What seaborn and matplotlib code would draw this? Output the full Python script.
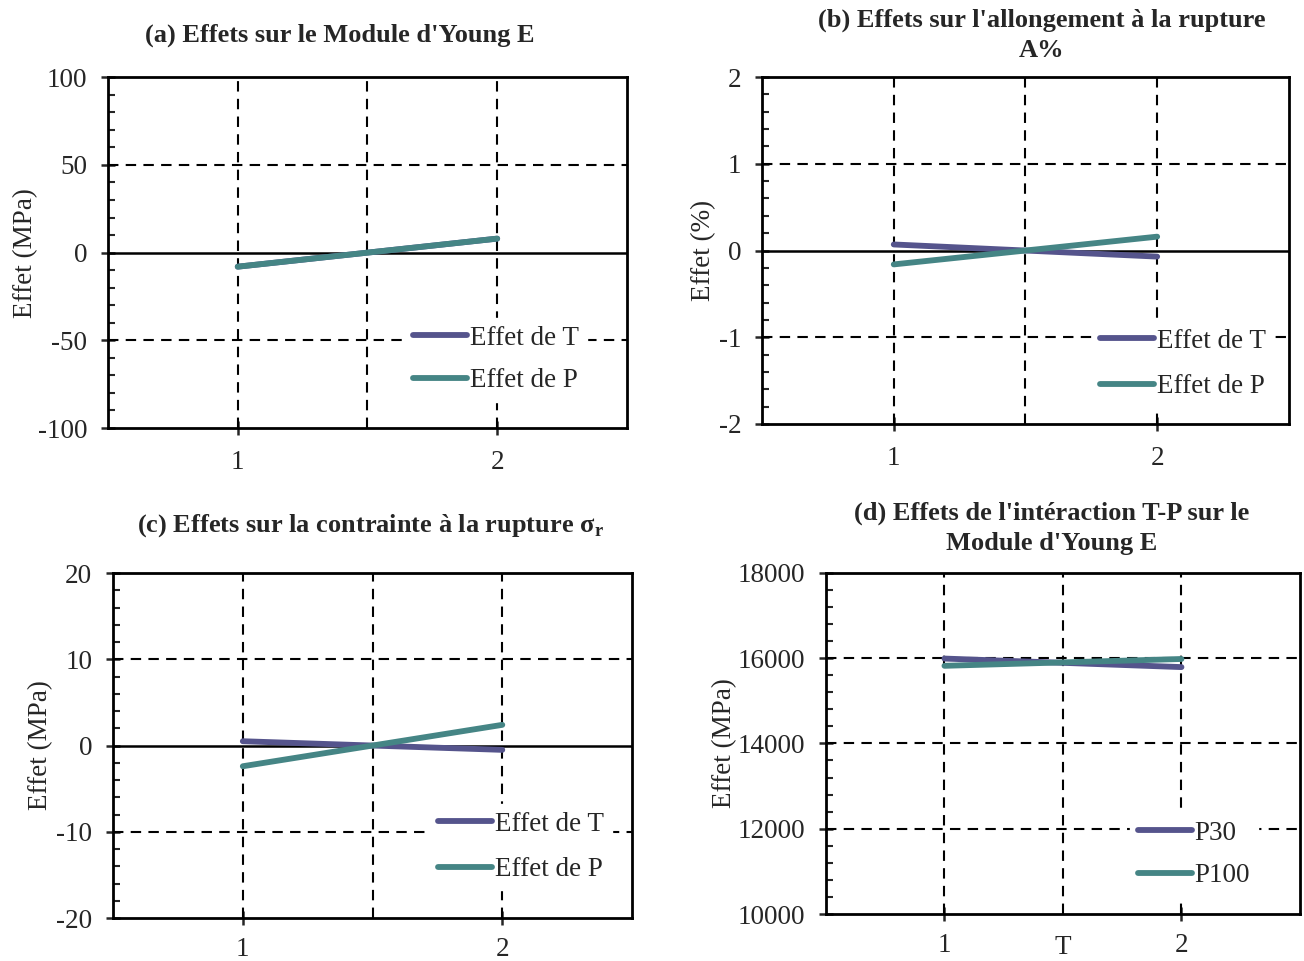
import pandas as pd
import numpy as np
import matplotlib.pyplot as plt
import seaborn as sns
from matplotlib.ticker import MultipleLocator

# -------------------------------
# Data
# -------------------------------
levels = [1, 2]

young_T = [-8, 8]
young_P = [-8, 8]

allong_T = [0.07, -0.07]
allong_P = [-0.16, 0.16]

contr_T = [0.5, -0.5]
contr_P = [-2.4, 2.4]

inter_P30 = [15990, 15790]
inter_P100 = [15820, 15980]

titles = [
    "(a) Effets sur le Module d'Young E",
    "(b) Effets sur l'allongement à la rupture\nA%",
    "(c) Effets sur la contrainte à la rupture σ$_\\mathbf{r}$",
    "(d) Effets de l'intéraction T-P sur le\nModule d'Young E",
]
ylabels = ["Effet (MPa)", "Effet (%)", "Effet (MPa)", "Effet (MPa)"]

colors = {"Effet de T": "#55548c", "Effet de P": "#458585",
          "P30": "#55548c", "P100": "#458585"}

# -------------------------------
# Style
# -------------------------------
sns.set_style("white")
plt.rcParams['font.family'] = ['Liberation Serif', 'DejaVu Serif']
plt.rcParams['mathtext.fontset'] = 'custom'
plt.rcParams['mathtext.rm'] = 'Liberation Serif'
plt.rcParams['mathtext.bf'] = 'Liberation Serif:bold'
plt.rcParams['axes.unicode_minus'] = False

W, H = 1304, 961
fig = plt.figure(figsize=(W / 100, H / 100), dpi=100)

panels = [
    # rect, series, ylim, major, minor, legend anchor, legend spacing, zero line, title centre (px), ylabel pad
    ([0.0828, 0.5546, 0.398, 0.365], {"Effet de T": young_T, "Effet de P": young_P},
     (-100, 100), 50, 10, (0.546, 0.353), 0.65, True, (340, 35), 0),
    ([0.5844, 0.5588, 0.404, 0.361], {"Effet de T": allong_T, "Effet de P": allong_P},
     (-2, 2), 1, 0.2, (0.60, 0.337), 0.75, True, (1042, 35), 2),
    ([0.0867, 0.0447, 0.398, 0.359], {"Effet de T": contr_T, "Effet de P": contr_P},
     (-20, 20), 10, 2, (0.584, 0.371), 0.75, True, (370, 526), 2),
    ([0.6334, 0.0489, 0.3635, 0.355], {"P30": inter_P30, "P100": inter_P100},
     (10000, 18000), 2000, 400, (0.612, 0.337), 0.65, False, (1052, 528), 0),
]

for i, (rect, series, ylim, major, minor, anchor, lspace, zero_line, tpos, ypad) in enumerate(panels):
    ax = fig.add_axes(rect)
    rows = []
    for name, vals in series.items():
        for x, v in zip(levels, vals):
            rows.append({"x": x, "y": v, "serie": name})
    df = pd.DataFrame(rows)

    sns.lineplot(data=df, x="x", y="y", hue="serie", palette=colors,
                 linewidth=4.2, ax=ax, zorder=5, solid_capstyle="round")

    ax.set_xlim(0.5, 2.5)
    ax.set_ylim(*ylim)
    ax.set_xticks(levels)
    ax.set_xticklabels(["1", "2"])
    ax.yaxis.set_major_locator(MultipleLocator(major))
    ax.yaxis.set_minor_locator(MultipleLocator(minor))

    grid_kw = dict(color="black", linewidth=1.5, dashes=(5, 3.5), zorder=1)
    for x in [1, 1.5, 2]:
        ax.axvline(x, **grid_kw)
    yt = np.arange(ylim[0] + major, ylim[1], major)
    for y in yt:
        if zero_line and y == 0:
            continue
        ax.axhline(y, **grid_kw)
    if zero_line:
        ax.axhline(0, color="black", linewidth=1.8, zorder=2)

    for s in ax.spines.values():
        s.set_color("black")
        s.set_linewidth(2)
        s.set_zorder(12)
    xpad = 11 if i < 2 else 9
    ax.tick_params(axis="y", which="major", direction="inout", length=10, width=1.8,
                   labelsize=19.5, left=True, pad=10)
    ax.tick_params(axis="y", which="minor", direction="in", length=5, width=1.5, left=True)
    ax.tick_params(axis="x", which="major", direction="inout", length=10, width=1.8,
                   labelsize=19.5, bottom=True, pad=xpad)

    fig.text(tpos[0] / W, 1 - tpos[1] / H, titles[i], fontsize=19, fontweight="bold",
             ha="center", va="center", linespacing=1.4)
    ax.set_ylabel(ylabels[i], fontsize=19.5, labelpad=ypad)
    ax.set_xlabel("T" if i == 3 else "", fontsize=19.5, labelpad=-17)

    handles, labels = ax.get_legend_handles_labels()
    leg = ax.legend(handles, labels, loc="upper left", bbox_to_anchor=anchor,
                    frameon=True, fontsize=19.5, handlelength=2.0, handletextpad=0.1,
                    labelspacing=lspace, borderpad=0.3, fancybox=False)
    leg.get_frame().set_edgecolor("white")
    leg.get_frame().set_facecolor("white")
    leg.get_frame().set_alpha(1)
    leg.set_zorder(10)

fig.savefig("out.png", dpi=100)
